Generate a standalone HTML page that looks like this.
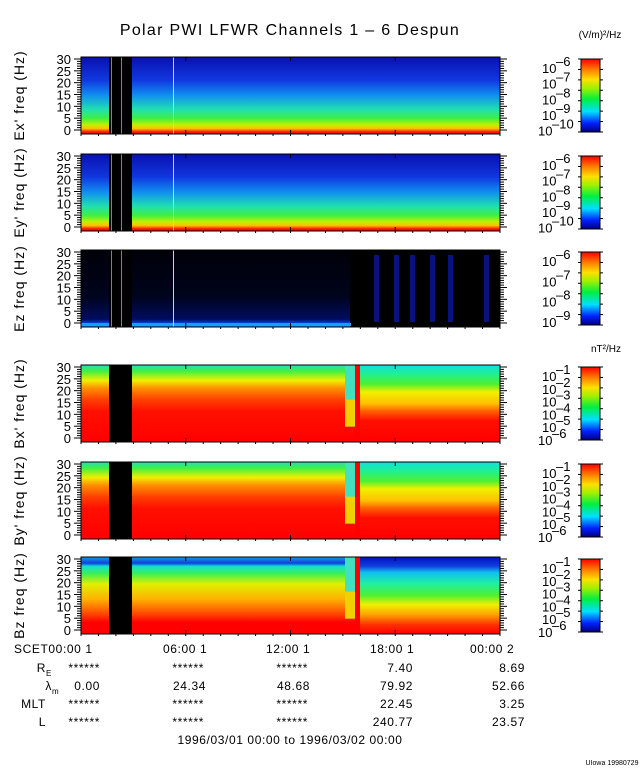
<!DOCTYPE html>
<html><head><meta charset="utf-8"><style>
body{margin:0;background:#fff;width:640px;height:768px;overflow:hidden}
svg text{font-family:"Liberation Sans",sans-serif;fill:#000}
</style></head><body>
<svg id="s" width="640" height="768" xmlns="http://www.w3.org/2000/svg">
<defs>
<linearGradient id="e1" x1="0" y1="0" x2="0" y2="1">
<stop offset="0" stop-color="#0a10b0"/><stop offset="0.3" stop-color="#1038e0"/><stop offset="0.5" stop-color="#1090f0"/><stop offset="0.68" stop-color="#20e0b0"/><stop offset="0.8" stop-color="#40f040"/><stop offset="0.88" stop-color="#c0f000"/><stop offset="0.93" stop-color="#ffc000"/><stop offset="0.97" stop-color="#ff2000"/><stop offset="1" stop-color="#e00000"/></linearGradient>
<linearGradient id="e1b" x1="0" y1="0" x2="0" y2="1">
<stop offset="0" stop-color="#0a10c0"/><stop offset="0.4" stop-color="#1030e0"/><stop offset="0.6" stop-color="#1090f0"/><stop offset="0.78" stop-color="#20e0b0"/><stop offset="0.88" stop-color="#50f030"/><stop offset="0.93" stop-color="#ffd000"/><stop offset="0.97" stop-color="#ff2000"/><stop offset="1" stop-color="#e00000"/></linearGradient>
<linearGradient id="ez" x1="0" y1="0" x2="0" y2="1">
<stop offset="0" stop-color="#000008"/><stop offset="0.6" stop-color="#00041c"/><stop offset="0.9" stop-color="#000c60"/><stop offset="0.95" stop-color="#0040e0"/><stop offset="1" stop-color="#00a0ff"/></linearGradient>
<linearGradient id="b1" x1="0" y1="0" x2="0" y2="1">
<stop offset="0" stop-color="#20e0c0"/><stop offset="0.08" stop-color="#40f040"/><stop offset="0.2" stop-color="#f0f000"/><stop offset="0.3" stop-color="#ff9000"/><stop offset="0.45" stop-color="#ff4000"/><stop offset="0.6" stop-color="#ff1000"/><stop offset="1" stop-color="#ff0000"/></linearGradient>
<linearGradient id="b1b" x1="0" y1="0" x2="0" y2="1">
<stop offset="0" stop-color="#10e0e0"/><stop offset="0.12" stop-color="#20f090"/><stop offset="0.25" stop-color="#50f030"/><stop offset="0.35" stop-color="#f0f000"/><stop offset="0.5" stop-color="#ffc000"/><stop offset="0.6" stop-color="#ff6000"/><stop offset="0.72" stop-color="#ff1000"/><stop offset="1" stop-color="#ff0000"/></linearGradient>
<linearGradient id="bz" x1="0" y1="0" x2="0" y2="1">
<stop offset="0" stop-color="#10a0e0"/><stop offset="0.08" stop-color="#1040e0"/><stop offset="0.12" stop-color="#10e0d0"/><stop offset="0.22" stop-color="#40f050"/><stop offset="0.35" stop-color="#e0f000"/><stop offset="0.55" stop-color="#ffb000"/><stop offset="0.75" stop-color="#ff4000"/><stop offset="0.85" stop-color="#ff0000"/><stop offset="1" stop-color="#ff0000"/></linearGradient>
<linearGradient id="bzb" x1="0" y1="0" x2="0" y2="1">
<stop offset="0" stop-color="#0010c0"/><stop offset="0.12" stop-color="#1040e0"/><stop offset="0.2" stop-color="#10c0f0"/><stop offset="0.35" stop-color="#20f0a0"/><stop offset="0.5" stop-color="#50f030"/><stop offset="0.62" stop-color="#f0f000"/><stop offset="0.75" stop-color="#ffa000"/><stop offset="0.88" stop-color="#ff3000"/><stop offset="1" stop-color="#ff0000"/></linearGradient>
<linearGradient id="cb" x1="0" y1="1" x2="0" y2="0">
<stop offset="0" stop-color="#000080"/><stop offset="0.12" stop-color="#0020ff"/><stop offset="0.28" stop-color="#00e0ff"/><stop offset="0.45" stop-color="#00f040"/><stop offset="0.6" stop-color="#a0f000"/><stop offset="0.72" stop-color="#ffe000"/><stop offset="0.85" stop-color="#ff8000"/><stop offset="1" stop-color="#ff0000"/></linearGradient>
</defs>
<text x="290" y="35" font-size="16" letter-spacing="1.3" text-anchor="middle">Polar PWI LFWR Channels 1 – 6 Despun</text>
<text x="600" y="38" font-size="10" text-anchor="middle">(V/m)²/Hz</text>
<text x="606" y="352" font-size="10" text-anchor="middle">nT²/Hz</text>
<text x="612" y="765" font-size="7" text-anchor="middle">UIowa 19980729</text>
<g id="g"></g>
<g font-size="12" letter-spacing="0.6">
<text x="14" y="653">SCET00:00   1</text>
<text x="163" y="653">06:00   1</text>
<text x="266" y="653">12:00   1</text>
<text x="370" y="653">18:00   1</text>
<text x="470" y="653">00:00   2</text>
<text x="46" y="672" text-anchor="end">R</text><text x="46" y="676" font-size="8">E</text>
<text x="52" y="690" text-anchor="end">λ</text><text x="52" y="694" font-size="8">m</text>
<text x="46" y="708" text-anchor="end">MLT</text>
<text x="46" y="726" text-anchor="end">L</text>
<g text-anchor="end">
<text x="100" y="672">******</text><text x="204" y="672">******</text><text x="308" y="672">******</text><text x="413" y="672">7.40</text><text x="525" y="672">8.69</text>
<text x="100" y="690">0.00</text><text x="206" y="690">24.34</text><text x="310" y="690">48.68</text><text x="413" y="690">79.92</text><text x="525" y="690">52.66</text>
<text x="100" y="708">******</text><text x="204" y="708">******</text><text x="308" y="708">******</text><text x="413" y="708">22.45</text><text x="525" y="708">3.25</text>
<text x="100" y="726">******</text><text x="204" y="726">******</text><text x="308" y="726">******</text><text x="413" y="726">240.77</text><text x="525" y="726">23.57</text>
</g>
<text x="290" y="744" text-anchor="middle">1996/03/01 00:00 to 1996/03/02 00:00</text>
</g>
</svg>
<script>
const NS="http://www.w3.org/2000/svg",g=document.getElementById('g');
function el(t,a,p){const e=document.createElementNS(NS,t);for(const k in a)e.setAttribute(k,a[k]);(p||g).appendChild(e);return e;}
function tx(x,y,s,a){const e=el('text',Object.assign({x,y},a||{}));e.textContent=s;return e;}
const X0=81,X1=500;
const P=[
 {y:57,lab:"Ex' freq (Hz)",f1:'e1',f2:'e1b',cb:['10^-6','10^-7','10^-8','10^-9','10^-10'],mag:0},
 {y:154,lab:"Ey' freq (Hz)",f1:'e1',f2:'e1b',cb:['10^-6','10^-7','10^-8','10^-9','10^-10'],mag:0},
 {y:250,lab:"Ez freq (Hz)",f1:'ez',f2:'ez',cb:['10^-6','10^-7','10^-8','10^-9'],mag:0,ez:1},
 {y:365,lab:"Bx' freq (Hz)",f1:'b1',f2:'b1b',cb:['10^-1','10^-2','10^-3','10^-4','10^-5','10^-6'],mag:1},
 {y:462,lab:"By' freq (Hz)",f1:'b1',f2:'b1b',cb:['10^-1','10^-2','10^-3','10^-4','10^-5','10^-6'],mag:1},
 {y:557,lab:"Bz freq (Hz)",f1:'bz',f2:'bzb',cb:['10^-1','10^-2','10^-3','10^-4','10^-5','10^-6'],mag:1}];
const H=77;
P.forEach(p=>{
 const y=p.y;
 el('rect',{x:X0,y,width:X1-X0,height:H,fill:'url(#'+p.f1+')'});
 if(p.mag){el('rect',{x:355,y,width:X1-355,height:H,fill:'url(#'+p.f2+')'});
  el('rect',{x:345,y,width:10,height:H*0.8,fill:'#40e0c0'});
  el('rect',{x:345,y:y+H*0.45,width:10,height:H*0.35,fill:'#f0d000'});
  el('rect',{x:355,y,width:5,height:H,fill:'#ff0000'});}
 if(p.ez){el('rect',{x:350,y,width:X1-350,height:H,fill:'#000'});
  [374,394,410,430,448,484].forEach(x=>el('rect',{x,y:y+5,width:5,height:H-10,fill:'#0818a0',opacity:0.8}));
  el('rect',{x:X0,y:y+H-4,width:270,height:3,fill:'#10a0ff'});}
 el('rect',{x:109,y,width:23,height:H,fill:'#000'});
 el('rect',{x:111,y,width:1,height:H,fill:p.mag?'#000':'#20a0e0'});
 el('rect',{x:121,y,width:1,height:H,fill:p.mag?'#000':'#20a0e0'});
 if(!p.mag)el('rect',{x:173,y,width:1,height:H,fill:'#e0e060'});
 el('rect',{x:X0,y,width:X1-X0,height:H,fill:'none',stroke:'#000','stroke-width':1});
 for(let i=0;i<=4;i++){const x=X0+i*(X1-X0)/4;el('line',{x1:x,y1:y+H,x2:x,y2:y+H-4,stroke:'#000'});el('line',{x1:x,y1:y,x2:x,y2:y+4,stroke:'#000'});}
 for(let h=0;h<=24;h++){const x=X0+h*(X1-X0)/24;el('line',{x1:x,y1:y+H,x2:x,y2:y+H+2,stroke:'#000'});}
 for(let f=0;f<=30;f++){const yy=y+H-4-f*(H-6)/30;const l=f%5?4:7;
  el('line',{x1:X0-l,y1:yy,x2:X0,y2:yy,stroke:'#000'});el('line',{x1:X1,y1:yy,x2:X1+l,y2:yy,stroke:'#000'});
  if(f%5==0)tx(X0-10,yy+5,String(f),{'font-size':13,'text-anchor':'end'});}
 tx(0,0,p.lab,{'font-size':14,'letter-spacing':1,'text-anchor':'middle',transform:`translate(24,${y+H/2}) rotate(-90)`});
 const cy=y+2,ch=H-4;
 el('rect',{x:581,y:cy,width:19,height:ch,fill:'url(#cb)',stroke:'#000'});
 for(let i=0;i<8;i++){const yy=cy+i*ch/7;el('line',{x1:578,y1:yy,x2:581,y2:yy,stroke:'#000'});el('line',{x1:600,y1:yy,x2:603,y2:yy,stroke:'#000'});}
 const n=p.cb.length;
 p.cb.forEach((s,i)=>{const yy=cy+8+i*(ch-4)/(n-0.6);
  const ex=s.split('^')[1];
  tx(i==n-1&&!p.ez?538:542,yy+6,'10',{'font-size':13});
  tx(i==n-1&&!p.ez?552:556,yy-1,ex.replace('-','–'),{'font-size':13});});
});
</script>
</body></html>
